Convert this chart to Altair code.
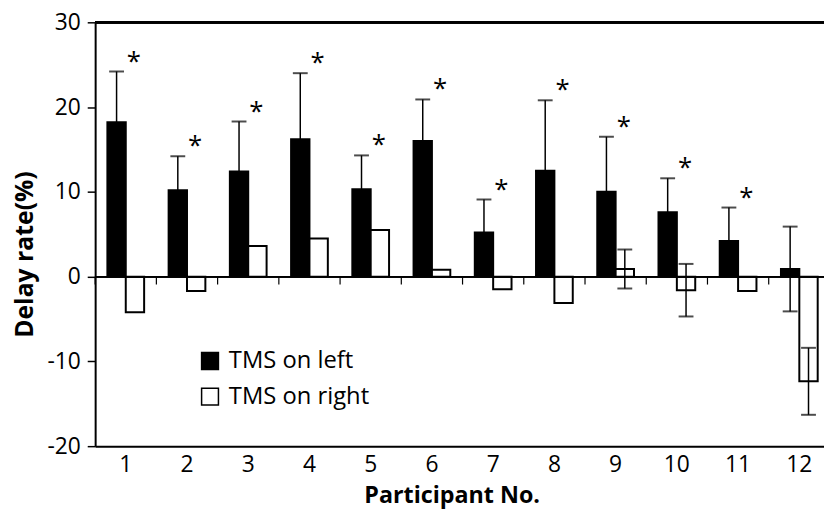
import altair as alt
import pandas as pd

participants = [1, 2, 3, 4, 5, 6, 7, 8, 9, 10, 11, 12]
series = ["TMS on left", "TMS on right"]
left_mean = [18.2, 10.2, 12.4, 16.2, 10.3, 16.0, 5.2, 12.5, 10.0, 7.6, 4.2, 0.9]
left_err = [6.0, 4.0, 5.9, 7.8, 4.0, 4.9, 3.9, 8.3, 6.5, 4.0, 3.95, 5.0]
right_mean = [-4.2, -1.7, 3.6, 4.5, 5.5, 0.8, -1.5, -3.1, 0.9, -1.6, -1.7, -12.35]
right_err = [None, None, None, None, None, None, None, None, 2.3, 3.1, None, 3.95]
significant = [True, True, True, True, True, True, True, True, True, True, True, False]
y_ticks = [-20, -10, 0, 10, 20, 30]

rows = []
for i, p in enumerate(participants):
    rows.append(dict(p=p, s=series[0], v=left_mean[i], e=left_err[i]))
    rows.append(dict(p=p, s=series[1], v=right_mean[i], e=right_err[i]))
df = pd.DataFrame(rows)
df["lo"] = df["v"] - df["e"]
df["hi"] = df["v"] + df["e"]
err_df = df.dropna(subset=["e"])

star_df = pd.DataFrame({
    "p": [p for p, s in zip(participants, significant) if s],
    "s": series[1],
    "y": [m + e for m, e, s in zip(left_mean, left_err, significant) if s],
})
tick_df = pd.DataFrame({"p": participants})

W, H = 736, 428
RANGE = [0, 742]
FONT = "Open Sans"

xscale = alt.Scale(domain=participants, range=RANGE, paddingInner=0.4, paddingOuter=0.2)
sep_scale = alt.Scale(domain=participants, range=RANGE, paddingInner=0, paddingOuter=0)
yscale = alt.Scale(domain=[-20, 30], nice=False, zero=False)
xoff = alt.XOffset("s:N", scale=alt.Scale(domain=series, paddingInner=0, paddingOuter=0))

x_enc = alt.X(
    "p:O", scale=xscale,
    axis=alt.Axis(title="Participant No.", labelAngle=0, ticks=False, labelFontSize=23,
                  labelFont=FONT, labelColor="black", labelPadding=8,
                  domainColor="black", domainWidth=2,
                  titleFont=FONT, titleFontSize=23.5, titleFontWeight="bold", titleColor="black",
                  titleX=360, titleY=57, titleBaseline="alphabetic", titleAlign="center"),
)
y_enc = alt.Y(
    "v:Q", scale=yscale,
    axis=alt.Axis(title="Delay rate(%)", values=y_ticks, grid=False, labelFontSize=23,
                  labelFont=FONT, labelColor="black", labelPadding=7,
                  labelExpr="replace(datum.label, '\u2212', '-')",
                  tickSize=8, tickColor="black", tickWidth=1.5,
                  domainColor="black", domainWidth=2,
                  titleFont=FONT, titleFontSize=25, titleFontWeight="bold", titleColor="black",
                  titleX=-63, titleY=234, titleBaseline="alphabetic", titleAlign="center",
                  titleAngle=270),
)

bars = alt.Chart(df).mark_bar(stroke="black", strokeWidth=2).encode(
    x=x_enc,
    xOffset=xoff,
    y=y_enc,
    fill=alt.Fill(
        "s:N",
        scale=alt.Scale(domain=series, range=["black", "white"]),
        legend=alt.Legend(title=None, orient="none", legendX=104, legendY=330,
                          symbolType="square", symbolSize=289, symbolStrokeColor="black",
                          symbolStrokeWidth=1.5, labelFont=FONT, labelFontSize=24,
                          labelColor="black", labelOffset=7, rowPadding=12, padding=0),
    ),
)

err_rule = alt.Chart(err_df).mark_rule(color="black", strokeWidth=1.5).encode(
    x=alt.X("p:O", scale=xscale), xOffset=xoff,
    y=alt.Y("lo:Q", scale=yscale), y2="hi:Q",
)
cap_hi = alt.Chart(err_df).mark_tick(color="black", thickness=2, size=15).encode(
    x=alt.X("p:O", scale=xscale), xOffset=xoff, y=alt.Y("hi:Q", scale=yscale),
)
cap_lo = alt.Chart(err_df).mark_tick(color="black", thickness=2, size=15).encode(
    x=alt.X("p:O", scale=xscale), xOffset=xoff, y=alt.Y("lo:Q", scale=yscale),
)

stars = alt.Chart(star_df).mark_text(text="*", font=FONT, fontSize=26, color="black",
                                     baseline="alphabetic", align="center", dx=-1, dy=-2).encode(
    x=alt.X("p:O", scale=xscale), xOffset=xoff, y=alt.Y("y:Q", scale=yscale),
)

zero_line = alt.Chart(tick_df).mark_rule(color="black", strokeWidth=1.5).encode(
    y=alt.Y(datum=0, scale=yscale), x=alt.value(0), x2=alt.value(W),
)
top_line = alt.Chart(tick_df).mark_rule(color="black", strokeWidth=2).encode(
    y=alt.value(0), x=alt.value(0), x2=alt.value(W),
)

main = alt.layer(bars, zero_line, err_rule, cap_hi, cap_lo, stars, top_line)

separators = alt.Chart(tick_df).mark_rule(color="black", strokeWidth=1.2, y2Offset=8).encode(
    x=alt.X("p:O", scale=sep_scale, bandPosition=0, axis=None),
    y=alt.Y(datum=0, scale=yscale), y2=alt.Y2(datum=0),
)

chart = alt.layer(main, separators).resolve_scale(x="independent").properties(
    width=W, height=H,
    autosize=alt.AutoSizeParams(type="none"),
    padding={"left": 88, "top": 12, "right": 0, "bottom": 62},
).configure_view(stroke=None).configure(background="white")

chart.save("out.html", embed_options={"renderer": "svg", "actions": False})
